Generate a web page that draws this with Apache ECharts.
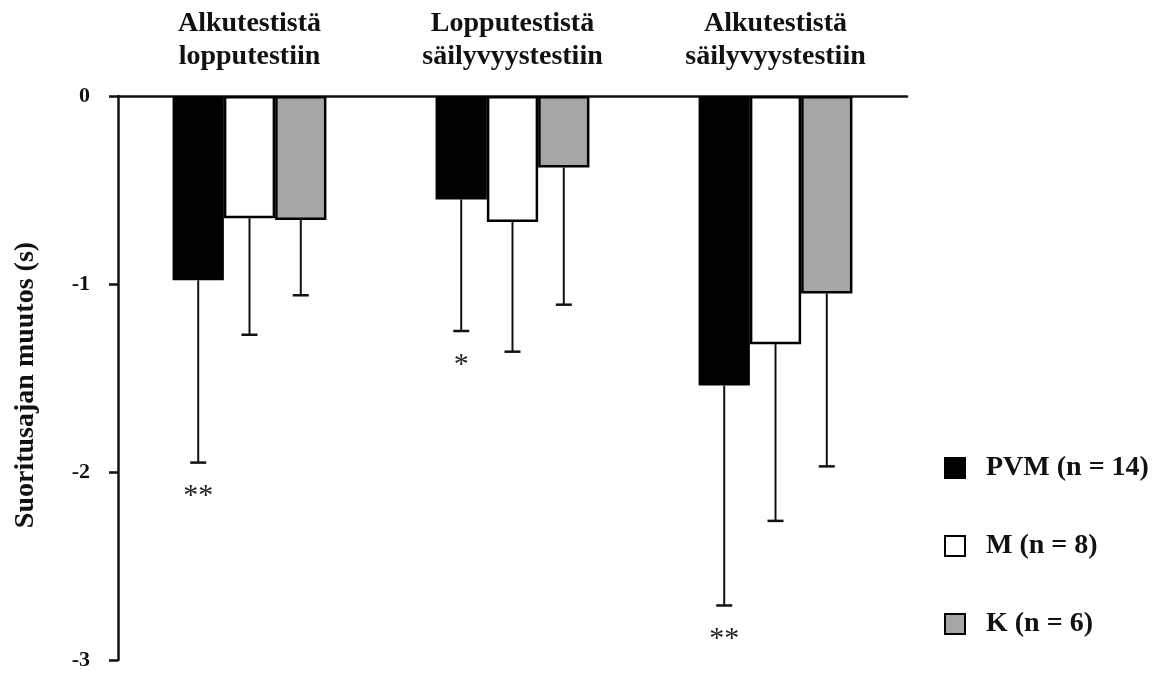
<!DOCTYPE html>
<html>
<head>
<meta charset="utf-8">
<script src="https://cdn.jsdelivr.net/npm/echarts@6/dist/echarts.min.js"></script>
<style>
html,body{margin:0;padding:0;background:#fff;}
#c{width:1176px;height:675px;}
</style>
</head>
<body>
<div id="c"></div>
<script>
var categories = ['Alkutestistä\nlopputestiin', 'Lopputestistä\nsäilyvyystestiin', 'Alkutestistä\nsäilyvyystestiin'];
var seriesNames = ['PVM (n = 14)', 'M (n = 8)', 'K (n = 6)'];
var pvmMean = [-0.98, -0.55, -1.54];
var pvmSD = [0.97, 0.70, 1.17];
var mMean = [-0.65, -0.67, -1.32];
var mSD = [0.62, 0.69, 0.94];
var kMean = [-0.66, -0.38, -1.05];
var kSD = [0.40, 0.73, 0.92];
var pvmSig = ['**', '*', '**'];
var mSig = ['', '', ''];
var kSig = ['', '', ''];
var yTicks = [0, -1, -2, -3];

var FONT = '"Liberation Serif", "Times New Roman", serif';
var colors = ['#000000', '#ffffff', '#a6a6a6'];
var means = [pvmMean, mMean, kMean];
var sds = [pvmSD, mSD, kSD];
var sigs = [pvmSig, mSig, kSig];
var BAR_FRAC = 0.195;

var chart = echarts.init(document.getElementById('c'));

var series = [];
seriesNames.forEach(function (name, s) {
  series.push({
    name: name,
    type: 'bar',
    data: means[s],
    barWidth: (BAR_FRAC * 100) + '%',
    barGap: '0%',
    itemStyle: { color: colors[s], borderColor: '#000', borderWidth: 2.5 },
    z: 2
  });
});
seriesNames.forEach(function (name, s) {
  var d = means[s].map(function (v, i) { return [i, v, v - sds[s][i], sigs[s][i]]; });
  series.push({
    type: 'custom',
    silent: true,
    z: 3,
    data: d,
    renderItem: function (params, api) {
      var idx = api.value(0);
      var band = api.size([1, 0])[0];
      var off = (s - 1) * band * BAR_FRAC;
      var top = api.coord([idx, api.value(1)]);
      var bot = api.coord([idx, api.value(2)]);
      var x = top[0] + off;
      var children = [
        { type: 'line', shape: { x1: x, y1: top[1], x2: x, y2: bot[1] }, style: { stroke: '#111', lineWidth: 2 } },
        { type: 'line', shape: { x1: x - 8, y1: bot[1], x2: x + 8, y2: bot[1] }, style: { stroke: '#111', lineWidth: 2.5 } }
      ];
      var sig = d[params.dataIndex][3];
      if (sig) {
        children.push({ type: 'text', style: { text: sig, x: x, y: bot[1] + 34, align: 'center', verticalAlign: 'middle', font: '30px ' + FONT, fill: '#222' } });
      }
      return { type: 'group', children: children };
    }
  });
});

chart.setOption({
  animation: false,
  backgroundColor: '#fff',
  grid: { left: 118, right: 269, top: 96, bottom: 15, containLabel: false },
  legend: {
    orient: 'vertical',
    left: 939,
    top: 448,
    itemGap: 48,
    itemWidth: 20,
    itemHeight: 20,
    icon: 'rect',
    data: seriesNames,
    textStyle: { fontFamily: FONT, fontWeight: 'bold', fontSize: 28, lineHeight: 30, color: '#111', padding: [0, 0, 0, 16] }
  },
  xAxis: {
    type: 'category',
    position: 'top',
    data: categories,
    axisLine: { onZero: false, lineStyle: { color: '#111', width: 2.5 } },
    axisTick: { show: false },
    axisLabel: { fontFamily: FONT, fontWeight: 'bold', fontSize: 28, color: '#111', lineHeight: 33, margin: 23 }
  },
  yAxis: {
    type: 'value',
    min: -3,
    max: 0,
    interval: 1,
    name: 'Suoritusajan muutos (s)',
    nameLocation: 'middle',
    nameGap: 78,
    nameRotate: 90,
    nameTextStyle: { fontFamily: FONT, fontWeight: 'bold', fontSize: 28, color: '#111', padding: [0, 14, 0, 0] },
    axisLine: { show: true, lineStyle: { color: '#111', width: 2.5 } },
    axisTick: { show: true, length: 9, lineStyle: { color: '#111', width: 2.5 } },
    splitLine: { show: false },
    axisLabel: {
      fontFamily: FONT, fontWeight: 'bold', fontSize: 22, color: '#111', margin: 28,
      formatter: function (v) { return yTicks.indexOf(v) >= 0 ? String(v) : ''; }
    }
  },
  series: series
});
</script>
</body>
</html>
